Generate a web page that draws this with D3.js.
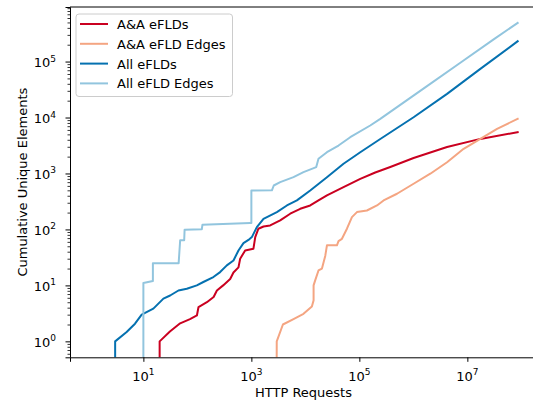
<!DOCTYPE html>
<html><head><meta charset="utf-8">
<script src="https://cdn.jsdelivr.net/npm/d3@7"></script>
<style>body{margin:0;background:#fff}svg{display:block}text{font-family:"DejaVu Sans",sans-serif;fill:#000}</style>
</head><body><svg id="c" width="533" height="402"></svg>
<script>
const seriesNames = ["A&A eFLDs", "A&A eFLD Edges", "All eFLDs", "All eFLD Edges"];
const seriesColors = ["#ca0020", "#f4a582", "#0571b0", "#92c5de"];

const aaEflds = [[20,0],[20,1],[31,1.5],[48,2.1],[73,2.5],[98,2.9],[105,4.1],[150,5],[200,6.2],[230,8.1],[300,10],[405,13],[466,17],[577,21],[620,30],[767,42],[1090,45],[1180,73],[1350,103],[1680,113],[2230,118],[3420,145],[5240,191],[8030,234],[12300,268],[17500,330],[25100,405],[50900,570],[104000,800],[197000,1042],[374000,1306],[1010000,1892],[4210000,2972],[17400000,4150],[85500000,5470]];
const aaEfldEdges = [[2900,0],[2950,1],[3840,2],[6030,2.5],[9240,3.1],[13200,4.2],[14200,5.4],[14200,10],[15200,12.3],[17500,18.5],[20300,20],[23400,34],[25100,52],[38400,52],[41100,62],[47600,68],[58900,103],[72900,166],[90200,204],[138000,218],[212000,268],[281000,330],[498000,434],[1010000,655],[2060000,990],[4210000,1590],[8540000,2760],[17400000,4170],[35500000,6280],[85500000,9480]];
const allEflds = [[3,0],[3,1],[4.9,1.47],[7,2.07],[9.3,3],[15.3,3.84],[23.5,5.8],[31.3,6.6],[44.6,8.1],[63.7,8.7],[97.7,10],[129,11.5],[198,14.1],[264,17.3],[351,22.8],[466,27.9],[577,42],[714,57],[884,65],[1021,73],[1264,110],[1676,155],[2970,204],[4550,268],[6970,330],[12300,497],[25100,859],[50900,1490],[104000,2400],[244000,4130],[1010000,10120],[4210000,26500],[17400000,74100],[85500000,230700]];
const allEfldEdges = [[10,0],[10,11],[15,12],[15,25],[45,25],[48,64],[57,64],[58,99],[121,101],[124,121],[950,130],[1000,130],[1000,497],[2400,500],[2600,610],[3420,700],[6030,859],[9240,1055],[15900,1300],[17500,1830],[25100,2400],[41100,3160],[67800,4450],[159000,7200],[244000,9480],[1790000,36400],[7420000,95200],[30700000,249000],[85500000,491000]];
const seriesData = [aaEflds, aaEfldEdges, allEflds, allEfldEdges];

const xTickExponents = [1, 3, 5, 7];
const yTickExponents = [0, 1, 2, 3, 4, 5];
const xLabel = "HTTP Requests";
const yLabel = "Cumulative Unique Elements";

const L = 70, R = 537, T = 7, B = 357.3;
const svg = d3.select("#c");
const x = d3.scaleLog().domain([Math.pow(10, -0.359), Math.pow(10, 8.29)]).range([L, R]);
const y = d3.scaleLog().domain([Math.pow(10, -0.285), Math.pow(10, 5.975)]).range([B, T]);

svg.append("defs").append("clipPath").attr("id", "clip")
  .append("rect").attr("x", L).attr("y", T).attr("width", R - L).attr("height", B - T);

const line = d3.line()
  .x(d => x(d[0]))
  .y(d => d[1] > 0 ? y(d[1]) : y(1e-3));

const g = svg.append("g").attr("clip-path", "url(#clip)");
seriesData.forEach((s, i) => {
  g.append("path").datum(s).attr("d", line)
    .attr("fill", "none").attr("stroke", seriesColors[i])
    .attr("stroke-width", 2).attr("stroke-linejoin", "round").attr("stroke-linecap", "square");
});

// spines
svg.append("line").attr("x1", L).attr("x2", R).attr("y1", T).attr("y2", T).attr("stroke", "#000").attr("stroke-width", 1);
svg.append("line").attr("x1", R).attr("x2", R).attr("y1", T).attr("y2", B).attr("stroke", "#000").attr("stroke-width", 1);

// x axis
const xAxis = d3.axisBottom(x).tickValues(xTickExponents.map(e => Math.pow(10, e))).tickSize(4.5).tickPadding(4).tickFormat("");
const xg = svg.append("g").attr("transform", `translate(0,${B})`).call(xAxis);
xg.select(".domain").attr("stroke", "#000").attr("stroke-width", 1);
xg.selectAll(".tick line").attr("stroke", "#000").attr("stroke-width", 1);
xTickExponents.forEach(e => {
  const t = svg.append("text").attr("x", x(Math.pow(10, e))).attr("y", 380.5)
    .attr("text-anchor", "middle").style("font-size", "13px");
  t.append("tspan").text("10");
  t.append("tspan").attr("dy", -5.5).style("font-size", "9px").text(String(e));
});

// y axis
const yMinor = [];
for (let k = -1; k <= 5; k++) for (let m = 2; m <= 9; m++) {
  const v = m * Math.pow(10, k);
  if (v >= y.domain()[0] && v <= y.domain()[1]) yMinor.push(v);
}
const yMinorAxis = d3.axisLeft(y).tickValues(yMinor).tickSize(2.5).tickFormat("");
const ymg = svg.append("g").attr("transform", `translate(${L},0)`).call(yMinorAxis);
ymg.select(".domain").remove();
ymg.selectAll(".tick line").attr("stroke", "#000").attr("stroke-width", 0.8);
const yAxis = d3.axisLeft(y).tickValues(yTickExponents.map(e => Math.pow(10, e))).tickSize(4.5).tickFormat("");
const yg = svg.append("g").attr("transform", `translate(${L},0)`).call(yAxis);
yg.select(".domain").attr("stroke", "#000").attr("stroke-width", 1);
yg.selectAll(".tick line").attr("stroke", "#000").attr("stroke-width", 1);
yTickExponents.forEach(e => {
  const t = svg.append("text").attr("x", 56).attr("y", y(Math.pow(10, e)) + 5.5)
    .attr("text-anchor", "end").style("font-size", "13px");
  t.append("tspan").text("10");
  t.append("tspan").attr("dy", -5.5).style("font-size", "9px").text(String(e));
});

// axis labels
svg.append("text").attr("x", (L + R) / 2).attr("y", 397).attr("text-anchor", "middle")
  .style("font-size", "13px").text(xLabel);
svg.append("text").attr("transform", `translate(26.5,${(T + B) / 2}) rotate(-90)`)
  .attr("text-anchor", "middle").style("font-size", "13px").text(yLabel);

// legend
const lg = svg.append("g");
lg.append("rect").attr("x", 76).attr("y", 14).attr("width", 156.5).attr("height", 82.5)
  .attr("rx", 3).attr("fill", "#fff").attr("fill-opacity", 0.8).attr("stroke", "#ccc").attr("stroke-width", 1);
seriesNames.forEach((n, i) => {
  const cy = 24 + i * 19.8;
  lg.append("line").attr("x1", 80).attr("x2", 108).attr("y1", cy).attr("y2", cy)
    .attr("stroke", seriesColors[i]).attr("stroke-width", 2);
  lg.append("text").attr("x", 117).attr("y", cy + 5).style("font-size", "13px").text(n);
});
</script></body></html>
